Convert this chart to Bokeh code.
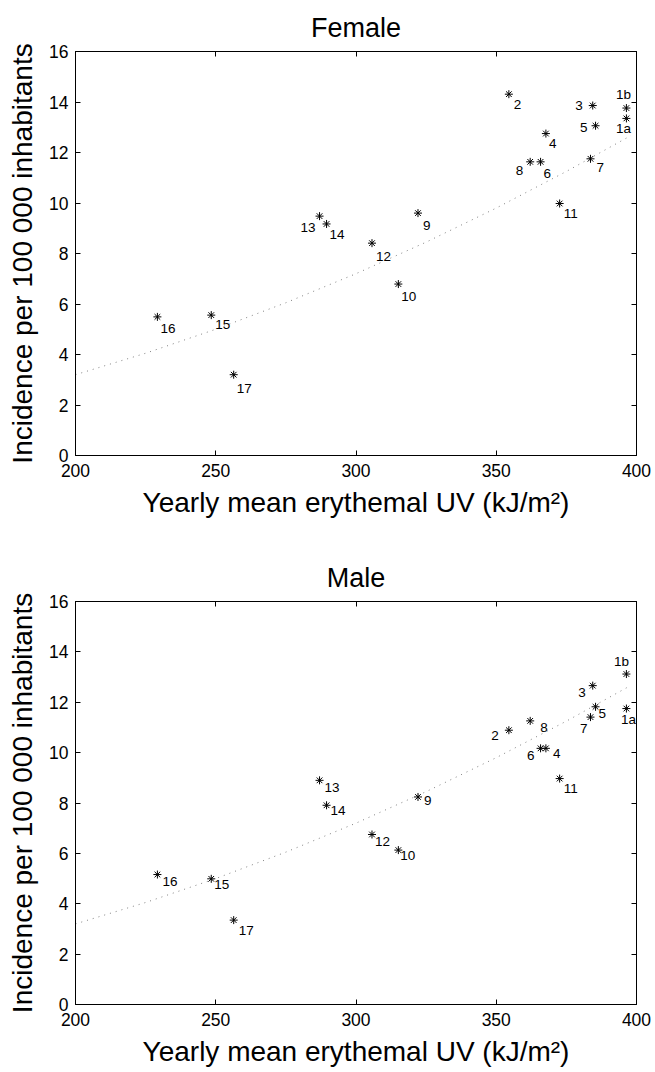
from bokeh.plotting import figure
from bokeh.layouts import column
from bokeh.models import ColumnDataSource, LinearAxis, FixedTicker, Range1d, CustomJSTickFormatter
from bokeh.embed import file_html
from bokeh.resources import INLINE
from bokeh.core.properties import value

# ---- data ----
station = ["1a", "1b", "2", "3", "4", "5", "6", "7", "8", "9",
           "10", "11", "12", "13", "14", "15", "16", "17"]
uv = [396.4, 396.4, 354.5, 384.4, 367.7, 385.4, 365.8, 383.6, 362.1, 322.1,
      315.1, 372.6, 305.7, 287.0, 289.5, 248.4, 229.2, 256.4]
female = [13.35, 13.76, 14.31, 13.86, 12.75, 13.06, 11.63, 11.75, 11.63, 9.60,
          6.79, 9.98, 8.41, 9.48, 9.17, 5.56, 5.49, 3.20]
male = [11.75, 13.12, 10.89, 12.66, 10.17, 11.82, 10.17, 11.41, 11.26, 8.24,
        6.13, 8.97, 6.75, 8.90, 7.91, 4.99, 5.16, 3.35]

# fitted (dotted) curve
fit_uv = [200, 225, 250, 275, 300, 325, 350, 375, 398]
fit_inc = [3.20, 4.05, 5.00, 6.05, 7.20, 8.45, 9.80, 11.25, 12.67]

x_ticks = [200, 250, 300, 350, 400]
y_ticks = [0, 2, 4, 6, 8, 10, 12, 14, 16]

# label placement (screen pixel offsets) per station
f_dx = [-3, -3, 5, -10, 3, -8, 3, 6, -7, 5, 3, 4, 4, -4, 3, 4, 3, 3]
f_dy = [10, -14, 10, 0, 10, 2, 12, 9, 9, 12, 12, 10, 13, 11, 11, 9, 12, 14]
f_al = ["center", "center", "left", "right", "left", "right", "left", "left", "right", "left",
        "left", "left", "left", "right", "left", "left", "left", "left"]
m_dx = [2, -5, -10, -7, 7, 3, -6, -3, 10, 6, 2, 4, 3, 5, 4, 3, 5, 5]
m_dy = [11, -13, 5, 7, 5, 7, 7, 11, 7, 4, 5, 10, 7, 7, 5, 6, 7, 10]
m_al = ["center", "center", "right", "right", "left", "left", "right", "right", "left", "left",
        "left", "left", "left", "left", "left", "left", "left", "left"]

FONT = "Liberation Sans"


def make_panel(title, inc, dx, dy, al, height, top, bottom):
    p = figure(width=653, height=height, output_backend="svg", toolbar_location=None,
               x_range=Range1d(200, 400), y_range=Range1d(0, 16),
               min_border_left=75, min_border_right=17,
               min_border_top=top, min_border_bottom=bottom, title=title)
    p.background_fill_color = "white"
    p.border_fill_color = "white"
    p.grid.visible = False
    p.outline_line_color = "black"
    p.outline_line_width = 1

    p.title.text_font = FONT
    p.title.text_font_size = "27px"
    p.title.text_font_style = "normal"
    p.title.align = "center"
    p.title.text_color = "black"
    p.title.standoff = 14
    p.title.vertical_align = "top"

    for ax in (p.xaxis[0], p.yaxis[0]):
        ax.major_tick_in = 5
        ax.major_tick_out = 0
        ax.minor_tick_line_color = None
        ax.axis_line_color = "black"
        ax.major_tick_line_color = "black"
        ax.major_label_text_font = FONT
        ax.major_label_text_font_size = "17.5px"
        ax.major_label_text_color = "black"
        ax.axis_label_text_font = FONT
        ax.axis_label_text_font_size = "28px"
        ax.axis_label_text_font_style = "normal"
        ax.axis_label_text_color = "black"
    p.xaxis[0].ticker = FixedTicker(ticks=x_ticks)
    p.yaxis[0].ticker = FixedTicker(ticks=y_ticks)
    p.xaxis[0].axis_label = "Yearly mean erythemal UV (kJ/m²)"
    p.yaxis[0].axis_label = "Incidence per 100 000 inhabitants"
    p.xaxis[0].major_label_standoff = 8
    p.yaxis[0].major_label_standoff = 7
    p.xaxis[0].axis_label_standoff = 7
    p.yaxis[0].axis_label_standoff = 8

    blank = CustomJSTickFormatter(code="return ''")
    top_ax = LinearAxis(ticker=FixedTicker(ticks=x_ticks), formatter=blank,
                        major_tick_in=5, major_tick_out=0, major_label_standoff=0,
                        minor_tick_line_color=None, axis_line_color="black")
    right_ax = LinearAxis(ticker=FixedTicker(ticks=y_ticks), formatter=blank,
                          major_tick_in=5, major_tick_out=0, major_label_standoff=0,
                          minor_tick_line_color=None, axis_line_color="black")
    p.add_layout(top_ax, "above")
    p.add_layout(right_ax, "right")

    p.line(fit_uv, fit_inc, line_color="#808080", line_width=1, line_dash="1 5")

    src = ColumnDataSource(dict(x=uv, y=inc, lab=station, dx=dx, dy=dy, al=al))
    p.scatter("x", "y", source=src, marker="asterisk", size=8,
              line_color="black", line_width=1)
    p.text("x", "y", text="lab", source=src, x_offset="dx", y_offset="dy",
           text_align="al", text_baseline="middle", text_font=value(FONT),
           text_font_size="13.5px", text_color="black")
    return p


p1 = make_panel("Female", female, f_dx, f_dy, f_al, 538, 51, 83)
p2 = make_panel("Male", male, m_dx, m_dy, m_al, 534, 63, 68)
layout = column(p1, p2, spacing=0)

open("out.html", "w").write(file_html(layout, INLINE))
